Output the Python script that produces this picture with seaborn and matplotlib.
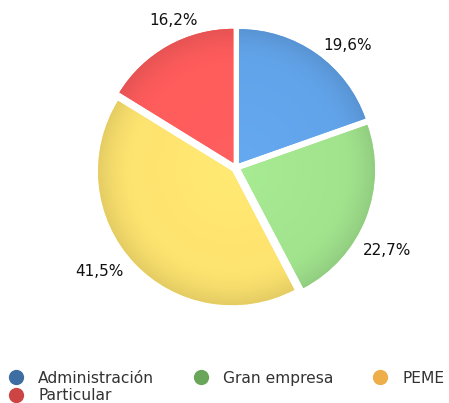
import numpy as np
import matplotlib
matplotlib.use("Agg")
import matplotlib.pyplot as plt
from matplotlib.lines import Line2D
from matplotlib.colors import to_rgb
import seaborn as sns

sns.set_theme(style="white")
plt.rcParams['font.family'] = ['DejaVu Sans']

# Data
categories = ["Administración", "Gran empresa", "PEME", "Particular"]
values = [19.6, 22.7, 41.5, 16.2]
slice_colors = ["#62a4ea", "#a2e48e", "#fde36f", "#ff5c5c"]
legend_colors = ["#3d6da3", "#6aa65a", "#eeae4a", "#cc4444"]

fig = plt.figure(figsize=(4.49, 4.03), dpi=100)
ax = fig.add_axes([0, 0, 1, 1])

EXPLODE = 0.04
wedges, _ = ax.pie(
    values, colors=slice_colors, startangle=90, counterclock=False,
    explode=[EXPLODE] * 4, radius=1.0, wedgeprops=dict(linewidth=0),
)

# pie sets its own limits, so put ours afterwards (pixel placement)
R_PX = 134.0
cx, cy = 236.0, 167.5
xlim = (-cx / R_PX, (449 - cx) / R_PX)
ylim = (-(403 - cy) / R_PX, cy / R_PX)

# radial shading: lighter inside, darker toward the rim
n = 400
xs = np.linspace(-1.2, 1.2, n)
X, Y = np.meshgrid(xs, xs)
texts = []
for w, col, v in zip(wedges, slice_colors, values):
    mid = np.deg2rad((w.theta1 + w.theta2) / 2)
    ox, oy = EXPLODE * np.cos(mid), EXPLODE * np.sin(mid)
    r = np.hypot(X - ox, Y - oy)
    f = np.where(r < 0.75, 1.03 - 0.04 * r, 1.0 - 0.9 * (r - 0.75) ** 1.6)
    f = np.clip(f, 0.72, 1.05)
    base = np.array(to_rgb(col))
    img = np.clip(base[None, None, :] * f[..., None], 0, 1)
    im = ax.imshow(img, extent=[-1.2, 1.2, -1.2, 1.2], origin="lower",
                   zorder=w.get_zorder() + 0.1, interpolation="bilinear")
    im.set_clip_path(w)

    t = ax.text(0, 0, f"{v:.1f}%".replace(".", ","), ha="center",
                va="center", fontsize=11, color="#111111")
    texts.append((t, mid - np.deg2rad(6.5)))

ax.set_xlim(*xlim)
ax.set_ylim(*ylim)
ax.set_aspect("equal")
ax.axis("off")

# push each label out so its box sits just beyond the rim
fig.canvas.draw()
renderer = fig.canvas.get_renderer()
for t, a in texts:
    bb = t.get_window_extent(renderer)
    hw, hh = bb.width / 2 / R_PX, bb.height / 2 / R_PX
    d = 1.09 + abs(np.cos(a)) * hw + abs(np.sin(a)) * hh
    t.set_position((d * np.cos(a), d * np.sin(a) - 3 / R_PX))

# legend
order = [0, 3, 1, 2]
handles = [Line2D([], [], marker="o", linestyle="", markersize=11,
                  markerfacecolor=legend_colors[i], markeredgewidth=0)
           for i in order]
fig.legend(handles, [categories[i] for i in order], ncol=3,
           loc="lower left", bbox_to_anchor=(8 / 449, 0.0), frameon=False,
           fontsize=11.2, handletextpad=0.95, columnspacing=2.47,
           labelspacing=0.15, handlelength=1.0, labelcolor="#333333",
           borderaxespad=0.0, borderpad=0.0)

fig.savefig("out.png", dpi=100, facecolor="white")
